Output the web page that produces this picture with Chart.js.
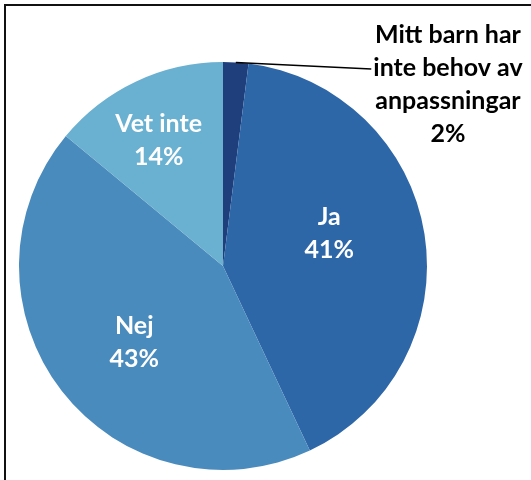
<!DOCTYPE html>
<html>
<head>
<meta charset="utf-8">
<script src="https://cdn.jsdelivr.net/npm/chart.js@4.4.0/dist/chart.umd.min.js"></script>
<style>
  html, body { margin: 0; padding: 0; background: #fff; }
  #wrap { position: relative; width: 531px; height: 480px; }
  #frame { position: absolute; left: 4px; top: 4px; right: -10px; bottom: -10px;
           border-left: 2px solid #111; border-top: 2px solid #111; pointer-events: none; }
</style>
</head>
<body>
<div id="wrap">
  <canvas id="pieChart" width="531" height="480"></canvas>
  <div id="frame"></div>
</div>
<script>
const categories = ['Mitt barn har inte behov av anpassningar', 'Ja', 'Nej', 'Vet inte'];
const labelLines = [['Mitt barn har', 'inte behov av', 'anpassningar'], ['Ja'], ['Nej'], ['Vet inte']];
const shares = [2, 41, 43, 14];
const colors = ['#1f3f7c', '#2e67a8', '#4a8bbd', '#6ab0d0'];

// where each label sits: fraction of radius + angle nudge (degrees) from slice middle
const labelSpots = [
  { r: 1.417, nudge: 47.5, color: '#000', outside: true },
  { r: 0.545, nudge: -8, color: '#fff' },
  { r: 0.575, nudge: -3, color: '#fff' },
  { r: 0.69, nudge: -2, color: '#fff' }
];

const sliceLabels = {
  id: 'sliceLabels',
  afterDatasetsDraw(chart) {
    const ctx = chart.ctx;
    const arcs = chart.getDatasetMeta(0).data;
    const lineH = 33;
    ctx.save();
    ctx.font = 'bold 25px Lato, "Open Sans", sans-serif';
    ctx.textAlign = 'center';
    ctx.textBaseline = 'middle';
    arcs.forEach((arc, i) => {
      const p = arc.getProps(['x', 'y', 'startAngle', 'endAngle', 'outerRadius'], true);
      const mid = (p.startAngle + p.endAngle) / 2;
      const spot = labelSpots[i];
      const a = mid + spot.nudge * Math.PI / 180;
      const cx = p.x + Math.cos(a) * p.outerRadius * spot.r;
      const cy = p.y + Math.sin(a) * p.outerRadius * spot.r;
      const lines = labelLines[i].concat([shares[i] + '%']);
      const top = cy - (lines.length - 1) * lineH / 2;
      ctx.fillStyle = spot.color;
      lines.forEach((t, k) => ctx.fillText(t, cx, top + k * lineH));
      if (spot.outside) {
        const w = ctx.measureText(lines[1]).width;
        const sx = p.x + Math.cos(mid) * p.outerRadius;
        const sy = p.y + Math.sin(mid) * p.outerRadius;
        ctx.strokeStyle = '#000';
        ctx.lineWidth = 1.5;
        ctx.beginPath();
        ctx.moveTo(sx, sy);
        ctx.lineTo(cx - w / 2 - 2, top + lineH + 1);
        ctx.stroke();
      }
    });
    ctx.restore();
  }
};

const ctx = document.getElementById('pieChart').getContext('2d');
new Chart(ctx, {
  type: 'pie',
  data: {
    labels: categories,
    datasets: [{
      data: shares,
      backgroundColor: colors,
      borderWidth: 0
    }]
  },
  options: {
    responsive: false,
    animation: false,
    layout: { padding: { top: 62, bottom: 10, left: 19, right: 104 } },
    plugins: {
      legend: { display: false },
      tooltip: { enabled: false }
    }
  },
  plugins: [sliceLabels]
});
</script>
</body>
</html>
